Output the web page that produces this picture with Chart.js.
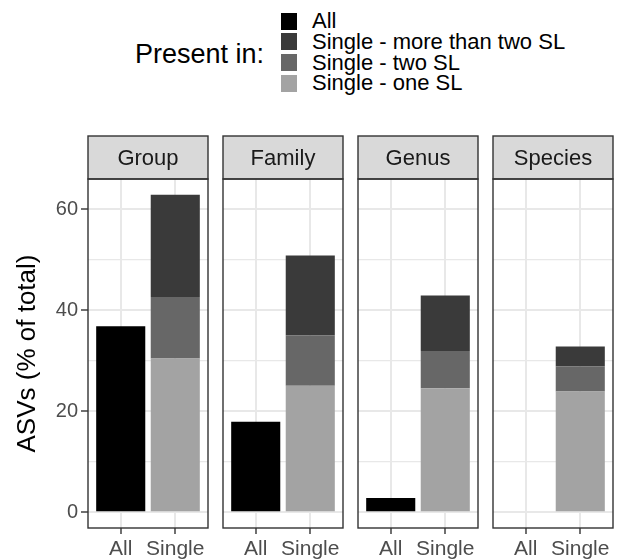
<!DOCTYPE html>
<html>
<head>
<meta charset="utf-8">
<script src="https://cdn.jsdelivr.net/npm/chart.js@4.4.1/dist/chart.umd.min.js"></script>
<style>
body{margin:0;background:#fff;font-family:"Liberation Sans",Arial,sans-serif;}
#wrap{position:relative;width:619px;height:560px;overflow:hidden;}
canvas{position:absolute;}
.lg_title{position:absolute;left:135px;top:41px;font-size:27px;line-height:27px;color:#000;white-space:nowrap;}
.lg_key{position:absolute;left:281px;width:16px;height:17px;}
.lg_label{position:absolute;left:312px;font-size:22px;line-height:22px;color:#000;white-space:nowrap;}
</style>
</head>
<body>
<div id="wrap"></div>
<script>
// data (% of total ASVs)
const facets = ["Group", "Family", "Genus", "Species"];
const x_labels = ["All", "Single"];
const all_values = [36.8, 17.9, 2.8, 0];
const one_sl = [30.4, 25.0, 24.5, 23.9];
const two_sl = [12.2, 10.0, 7.4, 5.0];
const more_sl = [20.2, 15.8, 11.0, 3.9];
const y_ticks = [0, 10, 20, 30, 40, 50, 60];
const legend_names = ["All", "Single - more than two SL", "Single - two SL", "Single - one SL"];
const legend_colors = ["#000000", "#3a3a3a", "#676767", "#a3a3a3"];

const FONT = '"Liberation Sans", Arial, sans-serif';
const panel_lefts = [88, 223, 358, 493];
const panel_w = 120;
const strip_h = 43;

// ggplot-like expansion of the shared y range
const y_top = Math.max(...one_sl.map((v, i) => v + two_sl[i] + more_sl[i]), ...all_values);
const y_min = -0.05 * y_top;
const y_max = y_top * 1.05;

const wrap = document.getElementById("wrap");

// legend (html)
const lg_title = document.createElement("div");
lg_title.className = "lg_title";
lg_title.textContent = "Present in:";
wrap.appendChild(lg_title);
for (let i = 0; i < legend_names.length; i++){
    const key = document.createElement("div");
    key.className = "lg_key";
    key.style.top = (12.7 + 20.7 * i) + "px";
    key.style.background = legend_colors[i];
    wrap.appendChild(key);
    const lab = document.createElement("div");
    lab.className = "lg_label";
    lab.style.top = (10.3 + 20.7 * i) + "px";
    lab.textContent = legend_names[i];
    wrap.appendChild(lab);
}

// strip + panel border
const panel_frame = {
    id: "panel_frame",
    afterDraw(chart, args, opts){
        const c = chart.ctx;
        const a = chart.chartArea;
        c.save();
        c.fillStyle = "#d9d9d9";
        c.fillRect(a.left, a.top - strip_h, a.right - a.left, strip_h);
        c.strokeStyle = "#333333";
        c.lineWidth = 1.4;
        c.strokeRect(a.left, a.top - strip_h, a.right - a.left, strip_h);
        c.strokeRect(a.left, a.top, a.right - a.left, a.bottom - a.top);
        c.fillStyle = "#1a1a1a";
        c.font = "22px " + FONT;
        c.textAlign = "center";
        c.textBaseline = "middle";
        c.fillText(opts.label, (a.left + a.right) / 2, a.top - strip_h / 2 + 1);
        c.restore();
    }
};

function build_panel(i){
    const first = i === 0;
    const axis_w = first ? 88 : 4;
    const canvas = document.createElement("canvas");
    canvas.style.left = (panel_lefts[i] - axis_w) + "px";
    canvas.style.top = "130px";
    canvas.width = axis_w + panel_w + 4;
    canvas.height = 430;
    canvas.style.width = canvas.width + "px";
    canvas.style.height = canvas.height + "px";
    wrap.appendChild(canvas);

    const ds = (label, color, x, y) => ({
        label: label,
        data: [{x: x, y: y}],
        backgroundColor: color,
        borderWidth: 0,
        barPercentage: 0.9,
        categoryPercentage: 1.0
    });

    new Chart(canvas, {
        type: "bar",
        data: {
            datasets: [
                ds("All", legend_colors[0], 1, all_values[i]),
                ds("Single - one SL", legend_colors[3], 2, one_sl[i]),
                ds("Single - two SL", legend_colors[2], 2, two_sl[i]),
                ds("Single - more than two SL", legend_colors[1], 2, more_sl[i])
            ]
        },
        options: {
            responsive: false,
            animation: false,
            events: [],
            layout: {padding: {top: strip_h + 6, right: 4, left: 0, bottom: 0}},
            plugins: {
                legend: {display: false},
                tooltip: {enabled: false},
                panel_frame: {label: facets[i]}
            },
            scales: {
                x: {
                    type: "linear",
                    min: 0.4,
                    max: 2.6,
                    stacked: true,
                    offset: false,
                    afterBuildTicks: (s) => { s.ticks = [{value: 1}, {value: 2}]; },
                    afterFit: (s) => { s.height = 32; },
                    border: {display: false},
                    grid: {offset: false, color: "#e8e8e8", lineWidth: 2, tickColor: "#333333", tickLength: 6, tickWidth: 1.4},
                    ticks: {
                        autoSkip: false,
                        maxRotation: 0,
                        padding: 3,
                        color: "#4d4d4d",
                        font: {family: FONT, size: 21},
                        callback: (v) => x_labels[v - 1]
                    }
                },
                y: {
                    stacked: true,
                    min: y_min,
                    max: y_max,
                    afterBuildTicks: (s) => { s.ticks = y_ticks.map(v => ({value: v})); },
                    afterFit: (s) => { s.width = axis_w; },
                    border: {display: false},
                    grid: {
                        color: "#e8e8e8",
                        lineWidth: (c) => (c.tick && c.tick.value % 20 === 0) ? 2 : 1.2,
                        drawTicks: first,
                        tickLength: 7,
                        tickWidth: 1.4,
                        tickColor: (c) => (c.tick && c.tick.value % 20 === 0) ? "#333333" : "rgba(0,0,0,0)"
                    },
                    ticks: {
                        display: first,
                        padding: 3,
                        color: "#4d4d4d",
                        font: {family: FONT, size: 20},
                        callback: (v) => v % 20 === 0 ? String(v) : ""
                    },
                    title: {
                        display: first,
                        text: "ASVs (% of total)",
                        color: "#000000",
                        font: {family: FONT, size: 26, lineHeight: 1},
                        padding: {top: 15, bottom: 0}
                    }
                }
            }
        },
        plugins: [panel_frame]
    });
}

for (let i = 0; i < facets.length; i++){
    build_panel(i);
}
</script>
</body>
</html>
